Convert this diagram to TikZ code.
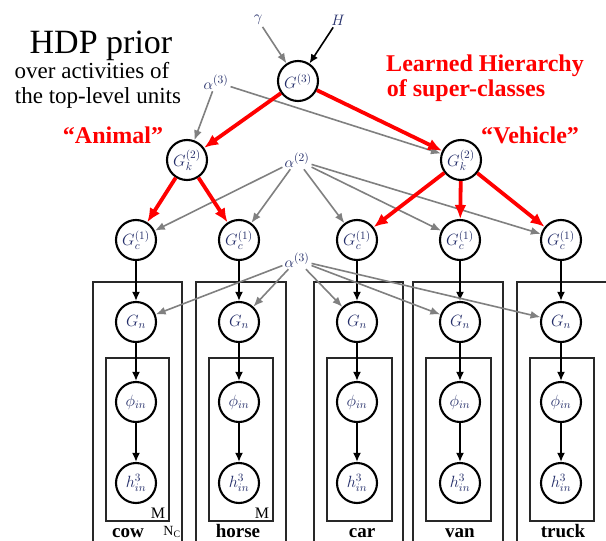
\documentclass[tikz,border=0pt]{standalone}
\usepackage{graphicx}
\usepackage{fontspec}
\setmainfont{Liberation Serif}
\usetikzlibrary{arrows.meta}
\definecolor{mathblue}{RGB}{35,45,105}
\definecolor{arrgray}{RGB}{128,128,128}
\definecolor{boxgray}{RGB}{40,40,40}
\newcommand\mlab[1]{\scalebox{1.13}{$#1$}}
\newcommand\plab[1]{\scalebox{1.05}{$#1$}}
\tikzset{
  var/.style={circle, draw=black, line width=2.1pt, fill=white, minimum size=40pt, inner sep=0pt,
              text=mathblue, font=\fontsize{14}{16}\selectfont},
  par/.style={inner sep=2pt, text=mathblue, font=\fontsize{15}{17}\selectfont},
  redarr/.style={-{Latex[length=14pt,width=12pt]}, red, line width=3.8pt},
  blkarr/.style={-{Latex[length=9pt,width=8pt]}, black, line width=1.9pt},
  grayarr/.style={-{Latex[length=10pt,width=8pt]}, arrgray, line width=1.6pt},
  plate/.style={draw=boxgray, line width=1.1pt},
  redtxt/.style={text=red, font=\fontsize{24}{26}\selectfont\bfseries, inner sep=0pt, anchor=base},
  blktxt/.style={text=black, inner sep=0pt, anchor=base},
  cls/.style={text=black, font=\fontsize{19}{21}\selectfont\bfseries, inner sep=0pt, anchor=base}
}
\begin{document}
\begin{tikzpicture}[x=1pt,y=-1pt]
\useasboundingbox (0,0) rectangle (606,541);
\clip (0,0) rectangle (606,541);
\fill[white] (0,0) rectangle (606,541);

% plates
\foreach \xl/\xr/\il/\ir in {93/182/106/169, 196/286/209/273, 314/403/327/392, 413/503/426/491, 517/610/530/594}{
  \draw[plate] (\xl,560) -- (\xl,282) -- (\xr,282) -- (\xr,560);
  \draw[plate] (\il,358) rectangle (\ir,521);
}

% texts
\node[blktxt, font=\fontsize{34}{36}\selectfont] (t1) at (101,53) {HDP prior};
\node[blktxt, font=\fontsize{23}{25}\selectfont] (t2) at (92,78) {over activities of};
\node[blktxt, font=\fontsize{23}{25}\selectfont] (t3) at (98,103) {the top-level units};
\node[redtxt] (r1) at (485,71) {Learned Hierarchy};
\node[redtxt] (r2) at (466,96) {of super-classes};
\node[redtxt] (r3) at (113,143) {``Animal''};
\node[redtxt] (r4) at (530,143) {``Vehicle''};

% nodes
\node[var] (G3) at (298,81) {\mlab{G^{(3)}}};
\node[var] (Gk1) at (187,160) {\mlab{G^{(2)}_k}};
\node[var] (Gk2) at (461,160) {\mlab{G^{(2)}_k}};
\foreach \n/\x in {cow/136, horse/239, car/357, van/460, truck/561}{
  \node[var] (c\n) at (\x,240) {\mlab{G^{(1)}_c}};
  \node[var] (n\n) at (\x,322) {\mlab{G_n}};
  \node[var] (p\n) at (\x,402) {\mlab{\phi_{in}}};
  \node[var] (h\n) at (\x,483) {\mlab{h^3_{in}}};
  \draw[blkarr] (c\n) -- (n\n);
  \draw[blkarr] (n\n) -- (p\n);
  \draw[blkarr] (p\n) -- (h\n);
}

% parameters
\node[par] (gam) at (258,20) {\plab{\gamma}};
\node[par] (H) at (338,20) {\plab{H}};
\node[par] (a3t) at (216,82) {\plab{\alpha^{(3)}}};
\node[par] (a2) at (297,160) {\plab{\alpha^{(2)}}};
\node[par] (a3b) at (297,260) {\plab{\alpha^{(3)}}};

% labels
\node[cls] (lcow) at (128,537) {cow};
\node[cls] (lhorse) at (238,537) {horse};
\node[cls] (lcar) at (362,537) {car};
\node[cls] (lvan) at (460,537) {van};
\node[cls] (ltruck) at (563,537) {truck};
\node[blktxt, font=\fontsize{16}{18}\selectfont] (m1) at (158,518) {M};
\node[blktxt, font=\fontsize{16}{18}\selectfont] (m2) at (262,518) {M};
\node[blktxt, font=\fontsize{14}{16}\selectfont] (nc) at (172,535) {N$_{\mathrm{C}}$};

% gray arrows
\draw[grayarr] (gam) -- (G3);
\draw[blkarr, line width=1.6pt] (H) -- (G3);
\draw[grayarr] (a3t) -- (Gk1);
\draw[grayarr] (a3t) -- (Gk2);
\foreach \n in {cow,horse,car,van,truck}{
  \draw[grayarr] (a2) -- (c\n);
  \draw[grayarr] (a3b) -- (n\n);
}

% red arrows
\draw[redarr] (G3) -- (Gk1);
\draw[redarr] (G3) -- (Gk2);
\draw[redarr] (Gk1) -- (ccow);
\draw[redarr] (Gk1) -- (chorse);
\draw[redarr] (Gk2) -- (ccar);
\draw[redarr] (Gk2) -- (cvan);
\draw[redarr] (Gk2) -- (ctruck);
\end{tikzpicture}
\end{document}
